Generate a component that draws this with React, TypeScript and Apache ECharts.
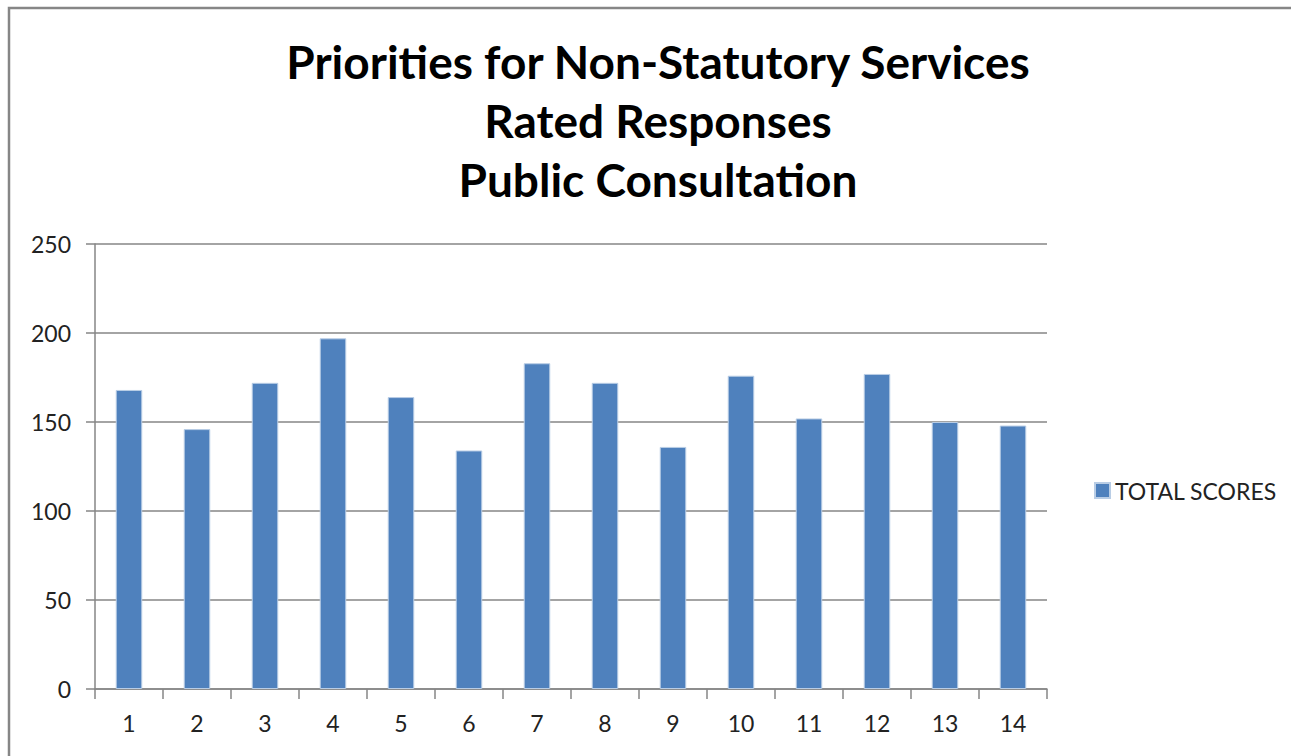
import React, { useEffect, useRef } from "react";
import * as echarts from "echarts";

const categories = ["1", "2", "3", "4", "5", "6", "7", "8", "9", "10", "11", "12", "13", "14"];
const totalScores = [168, 146, 172, 197, 164, 134, 183, 172, 136, 176, 152, 177, 150, 148];
const titleLines = ["Priorities for Non-Statutory Services", "Rated Responses", "Public Consultation"];
const seriesName = "TOTAL SCORES";

const FONT = "Lato, 'Open Sans', sans-serif";

export default function App() {
  const ref = useRef<HTMLDivElement>(null);
  useEffect(() => {
    if (!ref.current) return;
    const chart = echarts.init(ref.current, null, { renderer: "svg" });
    chart.setOption({
      animation: false,
      backgroundColor: "#ffffff",
      textStyle: { fontFamily: FONT },
      title: {
        text: titleLines.join("\n"),
        left: 653,
        top: 27,
        textAlign: "center",
        textStyle: {
          fontFamily: FONT,
          fontWeight: "bold",
          fontSize: 46,
          lineHeight: 59,
          color: "#000",
        },
      },
      legend: {
        data: [seriesName],
        left: 1089,
        top: 474,
        orient: "vertical",
        icon: "rect",
        itemWidth: 15,
        itemHeight: 15,
        itemGap: 10,
        textStyle: { fontFamily: FONT, fontSize: 23, color: "#222" },
      },
      grid: { left: 95, right: 244, top: 244, bottom: 67, containLabel: false },
      xAxis: {
        type: "category",
        data: categories,
        boundaryGap: true,
        axisLine: { show: true, lineStyle: { color: "#868686", width: 1.5 } },
        axisTick: { show: true, length: 10, alignWithLabel: false, lineStyle: { color: "#868686", width: 1.5 } },
        axisLabel: { margin: 22, fontSize: 23, color: "#222", fontFamily: FONT },
      },
      yAxis: {
        type: "value",
        min: 0,
        max: 250,
        interval: 50,
        axisLine: { show: true, lineStyle: { color: "#868686", width: 1.5 } },
        axisTick: { show: true, length: 9, lineStyle: { color: "#868686", width: 1.5 } },
        splitLine: { show: true, lineStyle: { color: "#868686", width: 1.5 } },
        axisLabel: { margin: 24, fontSize: 23, color: "#222", fontFamily: FONT },
      },
      series: [
        {
          name: seriesName,
          type: "bar",
          data: totalScores,
          barWidth: "39%",
          itemStyle: { color: "#4F81BD", borderColor: "#B9CDE5", borderWidth: 1 },
        },
      ],
      graphic: [
        {
          type: "rect",
          shape: { x: 9, y: 8, width: 1290, height: 760 },
          style: { fill: "none", stroke: "#868686", lineWidth: 2.5 },
          silent: true,
        },
      ],
    });
    return () => chart.dispose();
  }, []);
  return (
    <div
      ref={ref}
      style={{ position: "absolute", left: 0, top: 0, width: 1291, height: 756 }}
    />
  );
}
